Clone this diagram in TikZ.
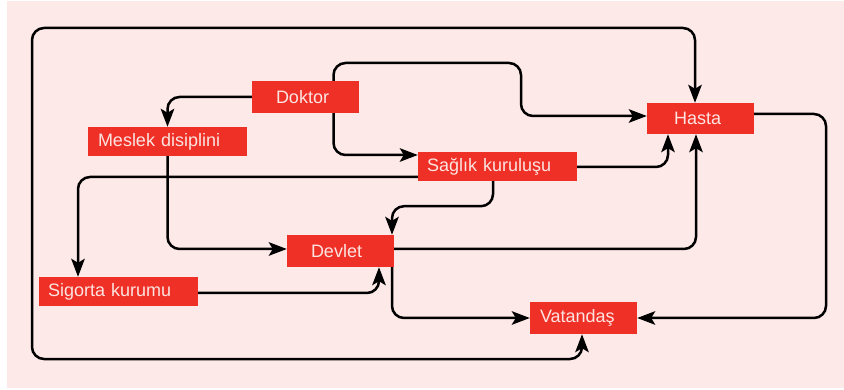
\documentclass[tikz,border=0pt]{standalone}
\usepackage{fontspec}
\setmainfont{Liberation Sans}
\usetikzlibrary{arrows.meta}
\definecolor{bgpink}{HTML}{FDE9E7}
\definecolor{boxred}{HTML}{EE3027}
\definecolor{labelpink}{HTML}{FDE4E1}

\begin{document}
\begin{tikzpicture}[x=1pt,y=-1pt,
  % box: height, left padding, text width
  tbox/.style n args={3}{fill=boxred, text=labelpink, inner ysep=0pt,
    font=\fontsize{18}{20}\selectfont, align=left,
    minimum height=#1, inner xsep=#2, text width=#3},
  tip/.tip={Stealth[length=18pt, width=13.5pt, inset=4pt]},
  arr/.style={draw=black, line width=2.5pt, rounded corners=12pt, -tip},
  dbl/.style={arr, tip-tip}
]
\fill[white] (0,0) rectangle (844,390);
\useasboundingbox (0,0) rectangle (844,390);
\fill[bgpink] (7,1) rectangle (844,388);

% actors
\node[tbox={32pt}{24pt}{59pt}] (doc) at (305.5,97)    {Doktor};
\node[tbox={31pt}{27pt}{53pt}] (has) at (700.5,118.5) {Hasta};
\node[tbox={29pt}{10pt}{139pt}] (mes) at (167.5,141.5) {Meslek disiplini};
\node[tbox={29pt}{9pt}{141pt}] (sag) at (497.5,166.5) {Sağlık kuruluşu};
\node[tbox={32pt}{24pt}{59pt}] (dev) at (340.5,251)   {Devlet};
\node[tbox={29pt}{9pt}{141pt}] (sig) at (118.5,291.5) {Sigorta kurumu};
\node[tbox={32pt}{10pt}{87pt}] (vat) at (583.5,318)   {Vatandaş};

% corner points of the long routes
\coordinate (loopbl) at (32,359);
\coordinate (looptr) at (695,28);
\coordinate (doctop) at (521,63);
\coordinate (hasrt)  at (826,318);

% relations (yshift is in page direction: positive moves up)
\draw[dbl] ([xshift=-1.5pt]vat.south) |- (loopbl) |- (looptr) -- ([xshift=-5.5pt]has.north);
\draw[arr] (doc.west) -| (mes.north);
\draw[arr] ([xshift=28pt]doc.north) |- (doctop) |- ([yshift=2.5pt]has.west);
\draw[arr] ([xshift=28pt]doc.south) |- ([yshift=11.5pt]sag.west);
\draw[arr] ([yshift=-0.5pt]sag.east) -| ([xshift=-32.5pt]has.south);
\draw[arr] ([yshift=-10.5pt]sag.west) -| ([xshift=-40.5pt]sig.north);
\draw[arr] (mes.south) |- ([yshift=2pt]dev.west);
\draw[arr] ([xshift=-4.5pt]sag.south) -- ++(0,25) -| ([xshift=51.5pt]dev.north);
\draw[arr] ([yshift=2pt]dev.east) -| ([xshift=-4.5pt]has.south);
\draw[arr] ([yshift=-1.5pt]sig.east) -| ([xshift=38.5pt]dev.south);
\draw[arr] ([xshift=51.5pt]dev.south) |- (vat.west);
\draw[arr] ([yshift=4.5pt]has.east) -| (hasrt) -- (vat.east);
\end{tikzpicture}
\end{document}
